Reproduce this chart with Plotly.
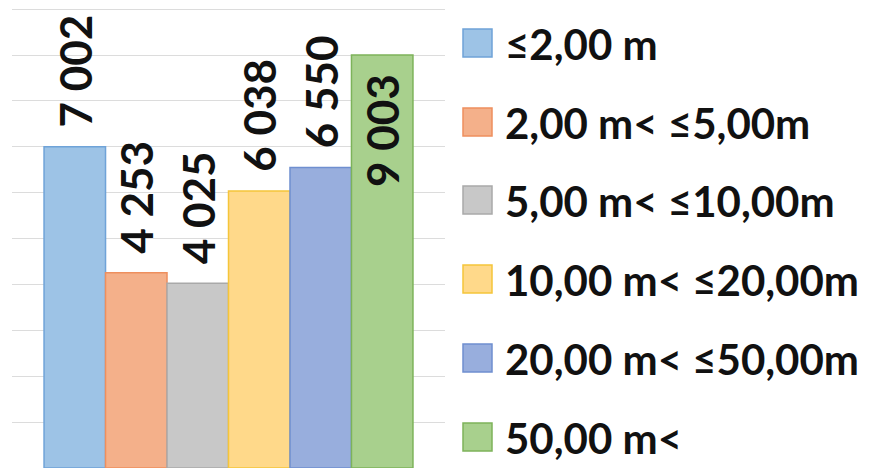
import plotly.graph_objects as go

# Data: count per height class
classes = ["≤2,00 m", "2,00 m< ≤5,00m", "5,00 m< ≤10,00m",
           "10,00 m< ≤20,00m", "20,00 m< ≤50,00m", "50,00 m<"]
values = [7002, 4253, 4025, 6038, 6550, 9003]
labels = ["7 002", "4 253", "4 025", "6 038", "6 550", "9 003"]
fills = ["#9DC3E6", "#F4B08A", "#C8C8C8", "#FFD98A", "#98AEDD", "#A8D08D"]
edges = ["#6FA3D8", "#EE8F5E", "#A9A9A9", "#F5C53A", "#6F8FD0", "#7DB35A"]

W, H = 875, 468
plot_l, plot_r = 12, 445
FONT = "Lato"
PAD = "\u00a0\u2009"

fig = go.Figure()
for i, (name, v, lab) in enumerate(zip(classes, values, labels)):
    inside = i == len(values) - 1
    fig.add_trace(go.Bar(
        x=[""], y=[v], name=name,
        marker=dict(color=fills[i], line=dict(color=edges[i], width=1.5)),
        text=[(lab + PAD) if inside else (PAD + lab)],
        textposition="inside" if inside else "outside",
        insidetextanchor="end",
        textangle=-90,
        constraintext="none",
        cliponaxis=False,
        textfont=dict(family=FONT, size=44, color="#111111", weight="bold"),
        showlegend=False,
    ))

# Legend: swatches and labels on the right
shapes, annotations = [], []
row_y = [43, 122, 200, 279, 358, 437]
pw = plot_r - plot_l
def px_x(px):
    return (px - plot_l) / pw
def px_y(py):
    return 1 - py / H
for i, name in enumerate(classes):
    cy = row_y[i]
    shapes.append(dict(
        type="rect", xref="paper", yref="paper",
        x0=px_x(463), x1=px_x(492), y0=px_y(cy + 14), y1=px_y(cy - 14),
        fillcolor=fills[i], line=dict(color=edges[i], width=1.5),
    ))
    annotations.append(dict(
        xref="paper", yref="paper", x=px_x(503), y=px_y(cy + 1),
        xanchor="left", yanchor="middle", text=name, showarrow=False,
        font=dict(family=FONT, size=42, color="#111111", weight="bold"),
    ))

fig.update_layout(
    width=W, height=H,
    margin=dict(l=plot_l, r=W - plot_r, t=0, b=0),
    paper_bgcolor="white", plot_bgcolor="white",
    barmode="group", bargap=0.148, bargroupgap=0,
    shapes=shapes, annotations=annotations,
    xaxis=dict(showticklabels=False, showgrid=False, zeroline=False),
    yaxis=dict(range=[0, 10200], dtick=1000, showticklabels=False,
               showgrid=True, gridcolor="#DCDCDC", gridwidth=1, zeroline=False),
)

fig.write_html("out.html")
